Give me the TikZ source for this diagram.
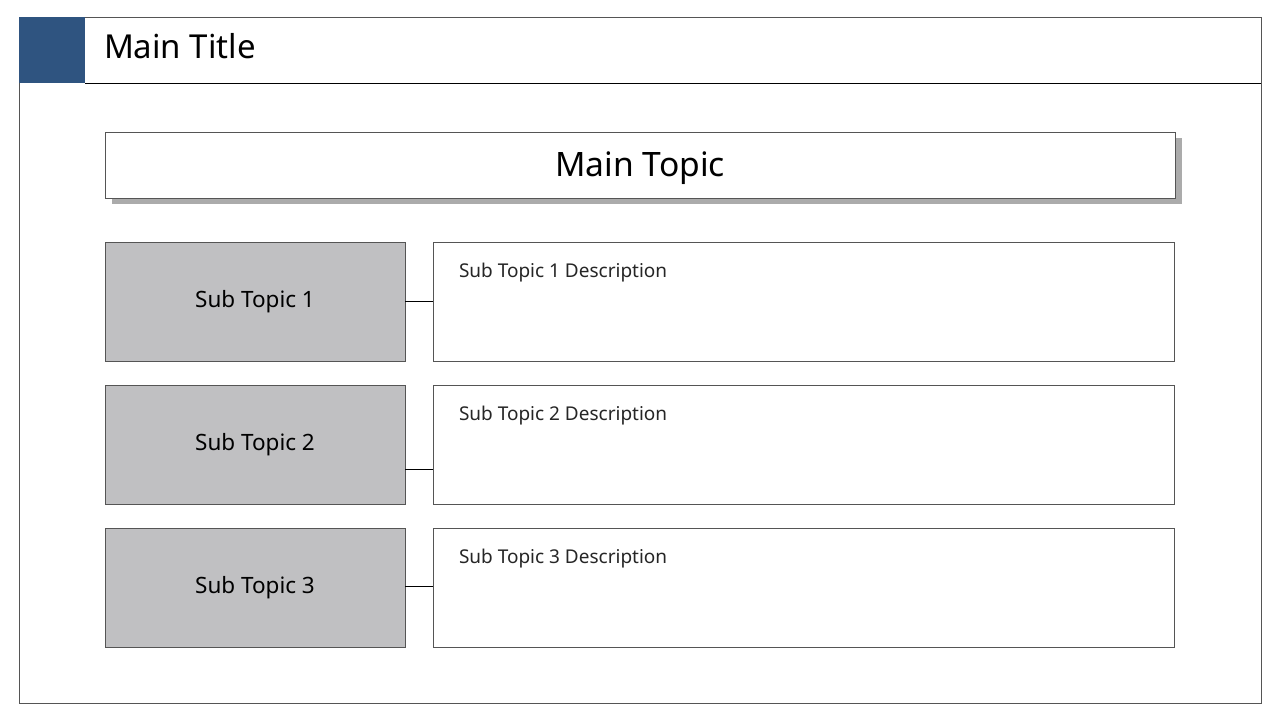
\documentclass[tikz,border=0pt]{standalone}
\usepackage{fontspec}
\setmainfont{Noto Sans}
\usetikzlibrary{calc,positioning,shadows}
\definecolor{titleblue}{HTML}{2F5480}
\definecolor{subgray}{HTML}{C0C0C2}
\definecolor{edgegray}{HTML}{555555}

\begin{document}
\begin{tikzpicture}[x=1pt,y=-1pt]
    \tikzstyle{every node}=[inner sep=0pt,outer sep=0pt]
    \tikzstyle{topic}=[draw=edgegray,fill=white,minimum width=1070pt,minimum height=66pt,
        drop shadow={shadow xshift=7pt,shadow yshift=-6pt,fill=black!33,opacity=1}]
    \tikzstyle{sub}=[draw=edgegray,fill=subgray,minimum width=300pt,minimum height=119pt,
        font=\fontsize{22.5}{26}\selectfont]
    \tikzstyle{desc}=[draw=edgegray,fill=white,minimum width=741pt,minimum height=119pt]
    \tikzstyle{desctext}=[anchor=base west,font=\fontsize{19}{23}\selectfont,text=black!85]
    \tikzstyle{link}=[draw=black,line width=1pt]

\useasboundingbox (0,0) rectangle (1280,720);
\fill[white] (0,0) rectangle (1280,720);

% frame and title bar
\node[draw=edgegray,line width=1pt,minimum width=1242pt,minimum height=686pt] (frame) at (640,360) {};
\node[fill=titleblue,minimum width=66pt,minimum height=66pt] (tag) at (52,50) {};
\draw[black,line width=1pt] (tag.south east) -- (frame.east |- tag.south);
\node[anchor=base west,font=\fontsize{33}{38}\selectfont] (title) at (104,58) {Main Title};

% main topic
\node[topic] (main) at (640,165) {};
\node[anchor=base,font=\fontsize{33.6}{38}\selectfont] (maintext) at (640,176.5) {Main Topic};

% sub topics
\foreach \i/\y in {1/301.5,2/444.5,3/587.5} {
    \node[sub] (s\i) at (255,\y) {Sub Topic \i};
    \node[desc] (d\i) at (803.5,\y) {};
    \node[desctext] (t\i) at ($(d\i.north west)+(26,35)$) {Sub Topic \i\ Description};
}

\draw[link] (s1.east) -- (d1.west);
\draw[link] ([yshift=-24.5pt]s2.east) -- ([yshift=-24.5pt]d2.west);
\draw[link] ([yshift=1.5pt]s3.east) -- ([yshift=1.5pt]d3.west);
\end{tikzpicture}
\end{document}
